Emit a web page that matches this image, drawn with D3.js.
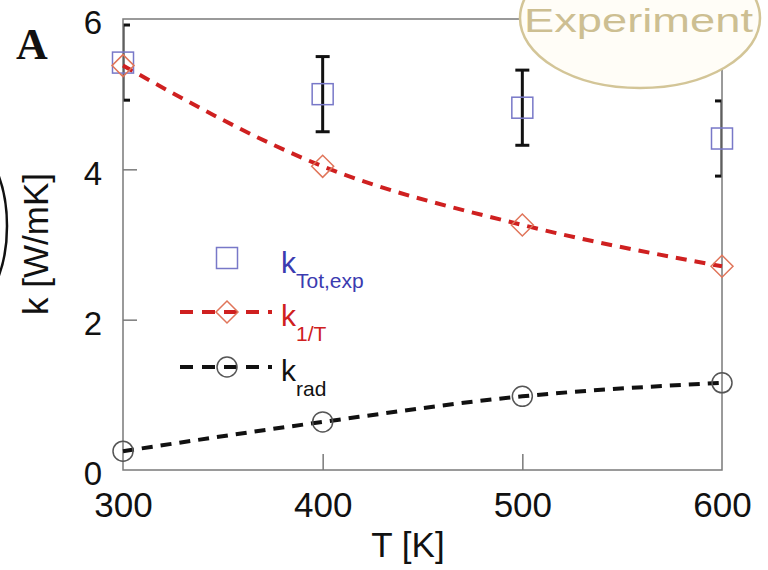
<!DOCTYPE html>
<html lang="en">
    <head>
        <meta charset="utf-8">
        <title>k vs T</title>
        <script src="https://d3js.org/d3.v7.min.js"></script>
        <style>
            body { margin: 0; background: #fff; }
            svg { display: block; font-family: "Liberation Sans", Arial, sans-serif; }
        </style>
    </head>
    <body>
        <script type="text/javascript">
            // data
            var temps = [300, 400, 500, 600];
            var kTotExp = [5.42, 5.0, 4.82, 4.41];
            var kTotErr = [0.5, 0.5, 0.5, 0.5];
            var kInvT = [5.38, 4.04, 3.26, 2.71];
            var kRad = [0.25, 0.64, 0.98, 1.16];
            var xTicks = [300, 400, 500, 600];
            var yTicks = [0, 2, 4, 6];

            var width = 768, height = 570;
            var plotL = 123, plotR = 722, plotT = 19, plotB = 470;

            var svg = d3.select("body")
                .append("svg")
                .attr("width", width)
                .attr("height", height);

            var x = d3.scaleLinear().domain([300, 600]).range([plotL, plotR]);
            var y = d3.scaleLinear().domain([0, 6]).range([plotB, plotT]);

            var axisColor = "#7a7a7a";

            svg.append("clipPath").attr("id", "plotclip")
                .append("rect")
                .attr("x", plotL).attr("y", plotT)
                .attr("width", plotR - plotL).attr("height", plotB - plotT);

            // error bars on experimental points (clipped at the frame)
            var eb = svg.append("g").attr("clip-path", "url(#plotclip)")
                .selectAll("g")
                .data(temps)
                .enter()
                .append("g")
                .attr("stroke", "#111")
                .attr("stroke-width", 3);
            eb.append("line")
                .attr("x1", function (d) { return x(d); })
                .attr("x2", function (d) { return x(d); })
                .attr("y1", function (d, i) { return y(kTotExp[i] + kTotErr[i]); })
                .attr("y2", function (d, i) { return y(kTotExp[i] - kTotErr[i]); });
            [1, -1].forEach(function (s) {
                eb.append("line")
                    .attr("x1", function (d) { return x(d) - 7; })
                    .attr("x2", function (d) { return x(d) + 7; })
                    .attr("y1", function (d, i) { return y(kTotExp[i] + s * kTotErr[i]); })
                    .attr("y2", function (d, i) { return y(kTotExp[i] + s * kTotErr[i]); });
            });

            // frame
            svg.append("rect")
                .attr("x", plotL).attr("y", plotT)
                .attr("width", plotR - plotL).attr("height", plotB - plotT)
                .attr("fill", "none")
                .attr("stroke", axisColor)
                .attr("stroke-width", 1.5);

            var xAxis = svg.append("g")
                .attr("transform", "translate(0," + plotB + ")")
                .call(d3.axisBottom(x).tickValues(xTicks).tickFormat(d3.format("d"))
                    .tickSizeInner(-16).tickSizeOuter(0).tickPadding(22));
            var yAxis = svg.append("g")
                .attr("transform", "translate(" + plotL + ",0)")
                .call(d3.axisLeft(y).tickValues(yTicks).tickFormat(d3.format("d"))
                    .tickSizeInner(-14).tickSizeOuter(0).tickPadding(21));
            [xAxis, yAxis].forEach(function (ax) {
                ax.select(".domain").remove();
                ax.selectAll("line").attr("stroke", axisColor).attr("stroke-width", 1.5);
                ax.selectAll("text").attr("fill", "#111")
                    .attr("font-family", "Liberation Sans, Arial, sans-serif");
            });
            xAxis.selectAll("text").attr("font-size", 35);
            yAxis.selectAll("text").attr("font-size", 33).attr("dy", "0.45em");
            // no tick marks on the ends
            xAxis.selectAll(".tick line").filter(function (d) { return d === 300 || d === 600; }).remove();
            yAxis.selectAll(".tick line").filter(function (d) { return d === 0 || d === 6; }).remove();

            // lines
            var lineGen = function (vals) {
                return d3.line()
                    .x(function (d, i) { return x(temps[i]); })
                    .y(function (d) { return y(d); })
                    .curve(d3.curveMonotoneX)(vals);
            };
            svg.append("path")
                .attr("d", lineGen(kInvT))
                .attr("fill", "none")
                .attr("stroke", "#cf2020")
                .attr("stroke-width", 4)
                .attr("stroke-dasharray", "11,8");
            svg.append("path")
                .attr("d", lineGen(kRad))
                .attr("fill", "none")
                .attr("stroke", "#111")
                .attr("stroke-width", 4)
                .attr("stroke-dasharray", "11,8");

            // markers
            var sq = 21, dm = 11, cr = 10;
            svg.selectAll("rect.sq")
                .data(kTotExp)
                .enter()
                .append("rect")
                .attr("class", "sq")
                .attr("x", function (d, i) { return x(temps[i]) - sq / 2; })
                .attr("y", function (d) { return y(d) - sq / 2; })
                .attr("width", sq).attr("height", sq)
                .attr("fill", "none")
                .attr("stroke", "#7878c8")
                .attr("stroke-width", 1.5);
            svg.selectAll("path.dm")
                .data(kInvT)
                .enter()
                .append("path")
                .attr("class", "dm")
                .attr("d", function (d, i) {
                    var cx = x(temps[i]), cy = y(d);
                    return "M" + (cx - dm) + "," + cy + "L" + cx + "," + (cy - dm) +
                        "L" + (cx + dm) + "," + cy + "L" + cx + "," + (cy + dm) + "Z";
                })
                .attr("fill", "none")
                .attr("stroke", "#e0755a")
                .attr("stroke-width", 1.5);
            svg.selectAll("circle.cr")
                .data(kRad)
                .enter()
                .append("circle")
                .attr("class", "cr")
                .attr("cx", function (d, i) { return x(temps[i]); })
                .attr("cy", function (d) { return y(d); })
                .attr("r", cr)
                .attr("fill", "none")
                .attr("stroke", "#555")
                .attr("stroke-width", 1.5);

            // legend
            var lg = svg.append("g");
            lg.append("rect")
                .attr("x", 227 - sq / 2).attr("y", 258 - sq / 2)
                .attr("width", sq).attr("height", sq)
                .attr("fill", "none").attr("stroke", "#7878c8").attr("stroke-width", 1.5);
            lg.append("line")
                .attr("x1", 180).attr("x2", 272).attr("y1", 312).attr("y2", 312)
                .attr("stroke", "#cf2020").attr("stroke-width", 4).attr("stroke-dasharray", "13,9");
            lg.append("path")
                .attr("d", "M" + (227 - dm) + ",312L227," + (312 - dm) + "L" + (227 + dm) + ",312L227," + (312 + dm) + "Z")
                .attr("fill", "none").attr("stroke", "#e0755a").attr("stroke-width", 1.5);
            lg.append("line")
                .attr("x1", 180).attr("x2", 272).attr("y1", 367).attr("y2", 367)
                .attr("stroke", "#111").attr("stroke-width", 4).attr("stroke-dasharray", "13,9");
            lg.append("circle")
                .attr("cx", 227).attr("cy", 367).attr("r", cr)
                .attr("fill", "none").attr("stroke", "#555").attr("stroke-width", 1.5);

            var legendText = [
                { sub: "Tot,exp", color: "#3b3bb0", y: 273 },
                { sub: "1/T", color: "#cf2020", y: 326 },
                { sub: "rad", color: "#111", y: 381 }
            ];
            legendText.forEach(function (t) {
                var tx = lg.append("text")
                    .attr("x", 281).attr("y", t.y)
                    .attr("fill", t.color)
                    .attr("font-size", 30);
                tx.append("tspan").text("k");
                tx.append("tspan").attr("dy", 15).attr("font-size", 21).text(t.sub);
            });

            // axis titles
            svg.append("text")
                .attr("x", 408).attr("y", 557)
                .attr("text-anchor", "middle")
                .attr("font-size", 35)
                .attr("fill", "#111")
                .text("T [K]");
            svg.append("text")
                .attr("transform", "translate(48,244) rotate(-90)")
                .attr("text-anchor", "middle")
                .attr("font-size", 35)
                .attr("fill", "#111")
                .text("k [W/mK]");

            // panel letter
            svg.append("text")
                .attr("x", 16).attr("y", 59)
                .attr("font-family", "Liberation Serif, Times New Roman, serif")
                .attr("font-weight", "bold")
                .attr("font-size", 44)
                .attr("fill", "#111")
                .text("A");

            // piece of a neighbouring circle at the left edge
            svg.append("ellipse")
                .attr("cx", -40).attr("cy", 226)
                .attr("rx", 47).attr("ry", 88)
                .attr("fill", "none").attr("stroke", "#111").attr("stroke-width", 2.5);

            // "Experiment" badge
            svg.append("ellipse")
                .attr("cx", 640).attr("cy", 18)
                .attr("rx", 120).attr("ry", 70)
                .attr("fill", "#fffdf7")
                .attr("stroke", "#d3c597")
                .attr("stroke-width", 2.5);
            svg.append("text")
                .attr("x", 524).attr("y", 32)
                .attr("font-size", 33)
                .attr("fill", "#cdbf92")
                .attr("textLength", 229)
                .attr("lengthAdjust", "spacingAndGlyphs")
                .text("Experiment");
        </script>
    </body>
</html>
